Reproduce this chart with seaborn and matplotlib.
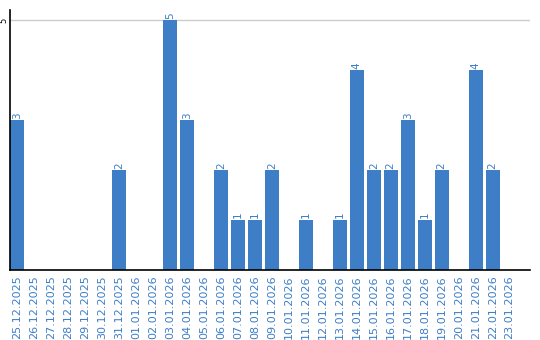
import matplotlib
matplotlib.use("Agg")
import matplotlib.pyplot as plt
import seaborn as sns
import pandas as pd

dates = ["25.12.2025", "26.12.2025", "27.12.2025", "28.12.2025", "29.12.2025",
         "30.12.2025", "31.12.2025", "01.01.2026", "02.01.2026", "03.01.2026",
         "04.01.2026", "05.01.2026", "06.01.2026", "07.01.2026", "08.01.2026",
         "09.01.2026", "10.01.2026", "11.01.2026", "12.01.2026", "13.01.2026",
         "14.01.2026", "15.01.2026", "16.01.2026", "17.01.2026", "18.01.2026",
         "19.01.2026", "20.01.2026", "21.01.2026", "22.01.2026", "23.01.2026"]
counts = [3, 0, 0, 0, 0, 0, 2, 0, 0, 5, 3, 0, 2, 1, 1, 2, 0, 1, 0, 1,
          4, 2, 2, 3, 1, 2, 0, 4, 2, 0]

sns.set_style("white")
plt.rcParams['font.family'] = ['DejaVu Sans']

blue = "#3d7ec6"
df = pd.DataFrame({"date": dates, "count": counts})

fig = plt.figure(figsize=(5.4, 3.4), dpi=100)
ax = fig.add_axes([10/540, 70/340, 520/540, 260/340])
sns.barplot(data=df, x="date", y="count", color=blue, width=0.82,
            saturation=1, ax=ax, zorder=2, linewidth=0, edgecolor="none")

for i, v in enumerate(counts):
    if v > 0:
        ax.text(i, v + 0.03, str(v), rotation=90, ha="center", va="bottom",
                fontsize=7.5, color=blue)

ax.set_xlim(-0.42, 30.2)
ax.set_ylim(0, 5.2)
ax.set_yticks([5])
ax.set_yticklabels(["5"], rotation=90, va="center", fontsize=6)
ax.axhline(5, color="#cccccc", lw=1, zorder=1)
ax.tick_params(axis="y", length=0, pad=1, colors="black")
ax.tick_params(axis="x", length=0, pad=4, labelcolor=blue, labelsize=8)
for lab in ax.get_xticklabels():
    lab.set_rotation(90)
ax.set_xlabel("")
ax.set_ylabel("")
for s in ["top", "right"]:
    ax.spines[s].set_visible(False)
for s in ["left", "bottom"]:
    ax.spines[s].set_color("black")
    ax.spines[s].set_linewidth(1.2)
    ax.spines[s].set_zorder(3)

fig.savefig("out.png", dpi=100)
